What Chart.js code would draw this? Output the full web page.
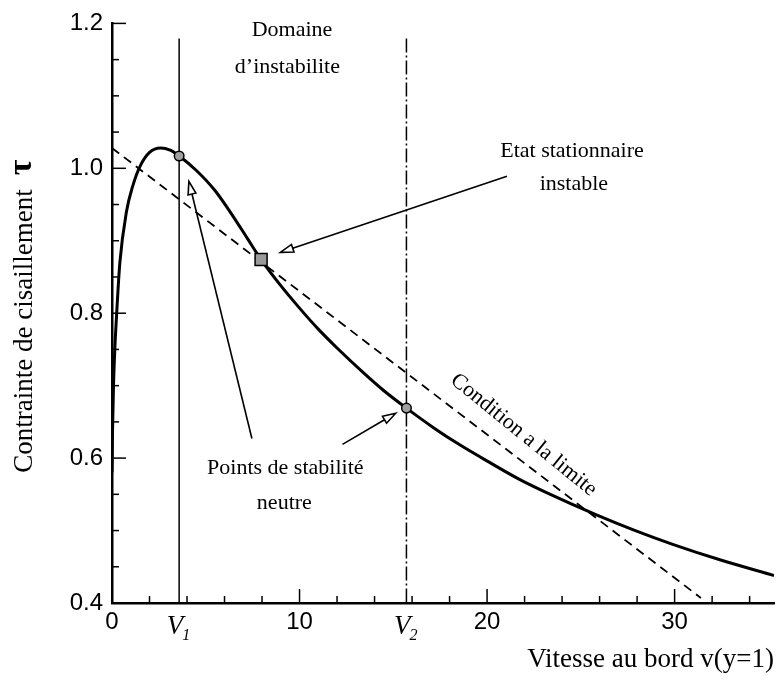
<!DOCTYPE html>
<html>
<head>
<meta charset="utf-8">
<script src="https://cdn.jsdelivr.net/npm/chart.js@4.4.1/dist/chart.umd.min.js"></script>
<style>
  body { margin: 0; background: #fff; }
  #wrap { width: 784px; height: 684px; }
</style>
</head>
<body>
<div id="wrap"><canvas id="myChart"></canvas></div>
<script>
// courbe tau = f(v)
const vitesse    = [0, 0.03, 0.08, 0.15, 0.25, 0.42, 0.77, 1.1, 1.5, 2.0, 2.6, 3.1, 3.58, 4.5, 5.5, 6.5, 7.2, 7.95, 9.0, 10.0, 11.0, 12.0, 13.4, 14.5, 15.7, 17.2, 18.5, 20.2, 21.7, 23.2, 25.8, 27.8, 29.9, 32.5, 35.3];
const contrainte = [0.58, 0.64, 0.70, 0.75, 0.80, 0.87, 0.94, 0.975, 1.003, 1.022, 1.028, 1.025, 1.017, 0.997, 0.969, 0.932, 0.904, 0.874, 0.838, 0.807, 0.778, 0.752, 0.718, 0.693, 0.669, 0.641, 0.619, 0.593, 0.571, 0.552, 0.522, 0.501, 0.481, 0.459, 0.438];

// condition a la limite (droite en tirets)
const limiteV   = [0, 31.4];
const limiteTau = [1.028, 0.407];

// points de stabilite neutre V1, V2
const neutreV   = [3.58, 15.7];
const neutreTau = [1.017, 0.669];
const neutreNoms = ['1', '2'];
const borneHaut = 1.179;

// etat stationnaire instable
const instableV   = [7.95];
const instableTau = [0.874];

// ticks
const xTickLabels = [0, 10, 20, 30];
const yTickLabels = [0.4, 0.6, 0.8, 1.0, 1.2];

const pts = (xs, ys) => xs.map((v, i) => ({ x: v, y: ys[i] }));

// textes et fleches (coordonnees en unites du graphe)
const textes = [
  { t: 'Domaine', x: 9.6, y: 1.190 },
  { t: 'd\u2019instabilite', x: 9.35, y: 1.140 },
  { t: 'Etat stationnaire', x: 24.53, y: 1.024 },
  { t: 'instable', x: 24.63, y: 0.978 },
  { t: 'Points de stabilit\u00e9', x: 9.24, y: 0.586 },
  { t: 'neutre', x: 9.19, y: 0.538 }
];
const fleches = [
  { x0: 7.46, y0: 0.627, x1: 4.10, y1: 0.982 },
  { x0: 12.29, y0: 0.619, x1: 15.13, y1: 0.662 },
  { x0: 21.06, y0: 0.989, x1: 8.98, y1: 0.884 }
];

function fleche(ctx, x0, y0, x1, y1) {
  const a = Math.atan2(y1 - y0, x1 - x0);
  const L = 13, W = 4;
  const bx = x1 - L * Math.cos(a), by = y1 - L * Math.sin(a);
  ctx.beginPath(); ctx.moveTo(x0, y0); ctx.lineTo(bx, by); ctx.stroke();
  ctx.beginPath();
  ctx.moveTo(x1, y1);
  ctx.lineTo(bx + W * Math.sin(a), by - W * Math.cos(a));
  ctx.lineTo(bx - W * Math.sin(a), by + W * Math.cos(a));
  ctx.closePath();
  ctx.fillStyle = '#fff'; ctx.fill(); ctx.stroke();
}

const annotations = {
  id: 'annotations',
  beforeDatasetsDraw(chart) {
    const { ctx, scales: { x, y }, chartArea: a } = chart;
    ctx.save();
    ctx.strokeStyle = '#000';
    ctx.lineWidth = 1.5;
    neutreV.forEach((v, i) => {
      ctx.setLineDash(i === 0 ? [] : [14, 3, 2, 3]);
      const px = x.getPixelForValue(v);
      ctx.beginPath();
      ctx.moveTo(px, y.getPixelForValue(borneHaut));
      ctx.lineTo(px, a.bottom);
      ctx.stroke();
    });
    ctx.restore();
  },
  afterDatasetsDraw(chart) {
    const { ctx, scales: { x, y }, chartArea: a } = chart;
    ctx.save();
    ctx.strokeStyle = '#000';
    ctx.fillStyle = '#000';

    // ticks vers l'interieur
    ctx.lineWidth = 1.5;
    x.ticks.forEach(t => {
      const px = x.getPixelForValue(t.value);
      const len = xTickLabels.includes(t.value) ? 14 : 7;
      ctx.beginPath(); ctx.moveTo(px, a.bottom); ctx.lineTo(px, a.bottom - len); ctx.stroke();
    });
    y.ticks.forEach(t => {
      const py = y.getPixelForValue(t.value);
      const len = yTickLabels.some(v => Math.abs(v - t.value) < 1e-6) ? 14 : 7;
      ctx.beginPath(); ctx.moveTo(a.left, py); ctx.lineTo(a.left + len, py); ctx.stroke();
    });

    // fleches
    ctx.lineWidth = 1.6;
    fleches.forEach(f => {
      fleche(ctx, x.getPixelForValue(f.x0), y.getPixelForValue(f.y0),
                  x.getPixelForValue(f.x1), y.getPixelForValue(f.y1));
    });

    // textes
    ctx.fillStyle = '#000';
    ctx.font = '22px "Liberation Serif"';
    ctx.textAlign = 'center';
    ctx.textBaseline = 'middle';
    textes.forEach(o => ctx.fillText(o.t, x.getPixelForValue(o.x), y.getPixelForValue(o.y)));

    // Condition a la limite, le long de la droite
    const lx0 = x.getPixelForValue(limiteV[0]), ly0 = y.getPixelForValue(limiteTau[0]);
    const lx1 = x.getPixelForValue(limiteV[1]), ly1 = y.getPixelForValue(limiteTau[1]);
    const ang = Math.atan2(ly1 - ly0, lx1 - lx0) + 0.03;
    ctx.save();
    ctx.translate(x.getPixelForValue(21.95), y.getPixelForValue(0.632));
    ctx.rotate(ang);
    ctx.font = '22px "Liberation Serif"';
    ctx.fillText('Condition a la limite', 0, 0);
    ctx.restore();

    // V1, V2 sous l'axe
    neutreV.forEach((v, i) => {
      const px = x.getPixelForValue(v);
      ctx.textBaseline = 'alphabetic';
      ctx.textAlign = 'right';
      ctx.font = 'italic 27px "Liberation Serif"';
      ctx.fillText('V', px + 4, a.bottom + 31);
      ctx.textAlign = 'left';
      ctx.font = 'italic 16px "Liberation Serif"';
      ctx.fillText(neutreNoms[i], px + 3, a.bottom + 37);
    });

    // titre axe y
    ctx.save();
    ctx.translate(25, (a.top + a.bottom) / 2 + 3);
    ctx.rotate(-Math.PI / 2);
    ctx.textBaseline = 'middle';
    ctx.textAlign = 'left';
    ctx.font = '27px "Liberation Serif"';
    const t1 = 'Contrainte de cisaillement';
    const w1 = ctx.measureText(t1).width;
    ctx.font = 'bold 34px "Liberation Serif"';
    const w2 = ctx.measureText('\u03c4').width;
    const gap = 14;
    const start = -(w1 + gap + w2) / 2;
    ctx.font = '27px "Liberation Serif"';
    ctx.fillText(t1, start, 0);
    ctx.font = 'bold 34px "Liberation Serif"';
    ctx.fillText('\u03c4', start + w1 + gap, -3);
    ctx.restore();

    ctx.restore();
  }
};

let ctx = document.getElementById('myChart').getContext('2d');
let myChart = new Chart(ctx, {
  type: 'line',
  data: {
    datasets: [
      {
        label: 'Etat stationnaire instable',
        data: pts(instableV, instableTau),
        showLine: false,
        pointStyle: 'rect',
        pointRadius: 8.5,
        backgroundColor: '#9a9a9a',
        borderColor: '#000',
        borderWidth: 1.5
      },
      {
        label: 'Points de stabilite neutre',
        data: pts(neutreV, neutreTau),
        showLine: false,
        pointStyle: 'circle',
        pointRadius: 4.8,
        backgroundColor: '#a0a0a0',
        borderColor: '#000',
        borderWidth: 1.5
      },
      {
        label: 'Contrainte',
        data: pts(vitesse, contrainte),
        borderColor: '#000',
        borderWidth: 3,
        pointRadius: 0,
        cubicInterpolationMode: 'monotone',
        fill: false
      },
      {
        label: 'Condition a la limite',
        data: pts(limiteV, limiteTau),
        borderColor: '#000',
        borderWidth: 1.8,
        borderDash: [9, 6],
        pointRadius: 0,
        fill: false
      }
    ]
  },
  options: {
    responsive: true,
    maintainAspectRatio: false,
    animation: false,
    layout: { padding: { top: 18, right: 0, bottom: 0, left: 0 } },
    plugins: {
      legend: { display: false },
      tooltip: { enabled: false }
    },
    scales: {
      x: {
        type: 'linear',
        min: 0,
        max: 35.3,
        border: { color: '#000', width: 2.5 },
        grid: { display: false, drawTicks: false },
        ticks: {
          stepSize: 2,
          includeBounds: false,
          autoSkip: false,
          maxRotation: 0,
          padding: 5,
          color: '#000',
          font: { family: 'Liberation Sans', size: 24 },
          callback: v => xTickLabels.includes(v) ? String(v) : ''
        },
        title: {
          display: true,
          text: 'Vitesse au bord v(y=1)',
          align: 'end',
          color: '#000',
          font: { family: 'Liberation Serif', size: 27 },
          padding: { top: 0, bottom: 8 }
        },
        afterFit: s => { s.height = 81; }
      },
      y: {
        type: 'linear',
        min: 0.4,
        max: 1.2,
        border: { color: '#000', width: 2.5 },
        grid: { display: false, drawTicks: false },
        ticks: {
          stepSize: 0.05,
          autoSkip: false,
          padding: 9,
          color: '#000',
          font: { family: 'Liberation Sans', size: 24 },
          callback: v => yTickLabels.some(t => Math.abs(t - v) < 1e-6) ? v.toFixed(1) : ''
        },
        afterFit: s => { s.width = 112; }
      }
    }
  },
  plugins: [annotations]
});
</script>
</body>
</html>
